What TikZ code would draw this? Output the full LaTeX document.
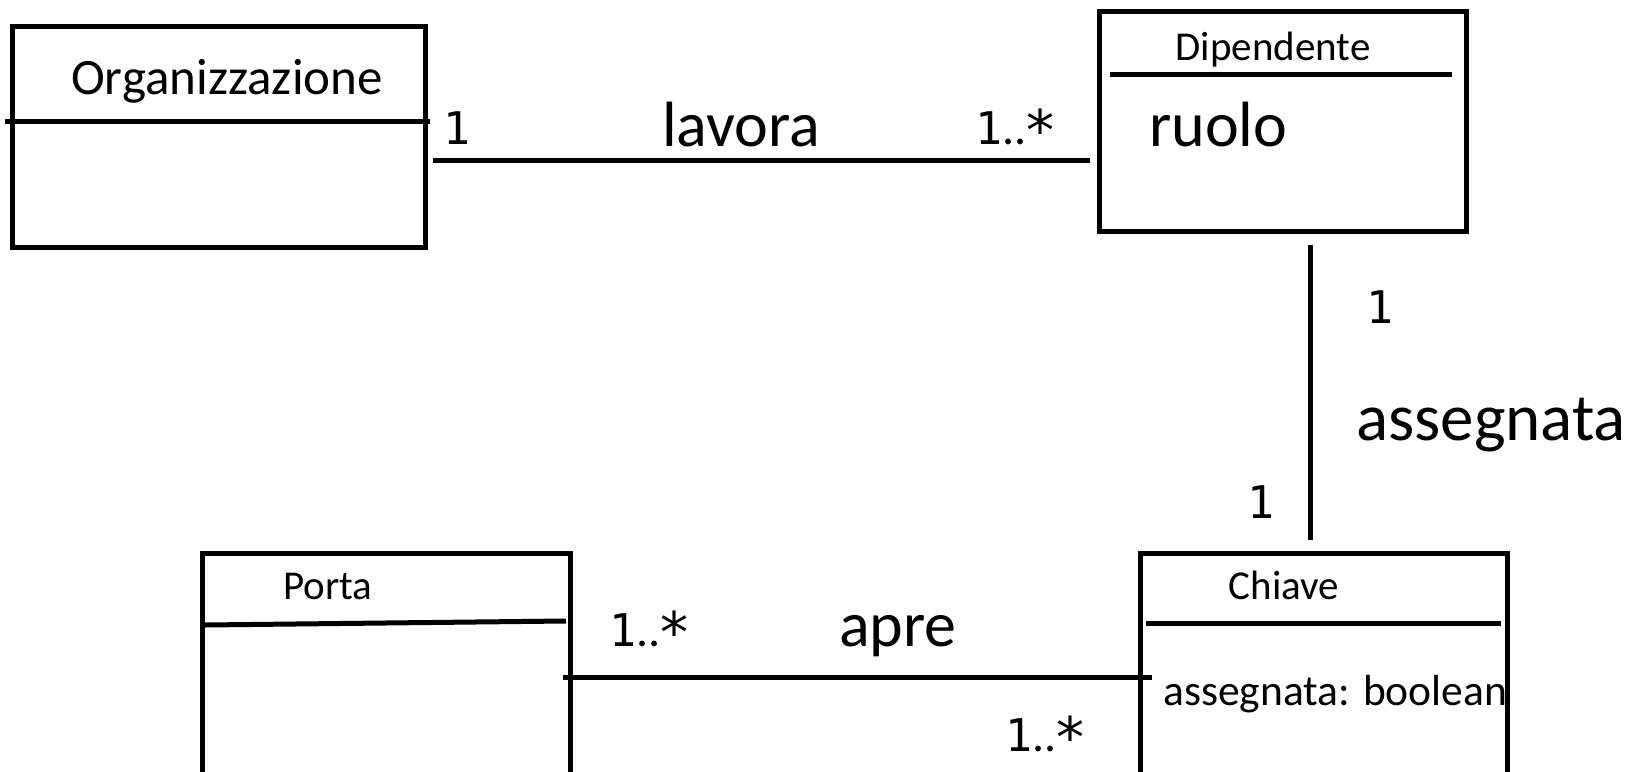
\documentclass[tikz,border=0pt]{standalone}
\usepackage{fontspec}
\setmainfont{Carlito}
\newfontfamily\monofont{DejaVu Sans Mono}
\newfontfamily\starfont{DejaVu Sans}
\newcommand\multone{{\monofont\fontsize{45}{48}\selectfont 1}}
\newcommand\multmany{{\monofont\fontsize{45}{48}\selectfont 1}{\fontsize{48}{48}\selectfont ..}\raisebox{-6pt}{\starfont\fontsize{56}{56}\selectfont *}}
\usetikzlibrary{calc}
\begin{document}
\begin{tikzpicture}[x=1pt,y=-1pt,
  umlbox/.style={draw, line width=5pt, inner sep=0pt, outer sep=0pt, anchor=north west},
  rule/.style={line width=5pt},
  lbl/.style={inner sep=0pt, anchor=base},
  lblw/.style={inner sep=0pt, anchor=base west},
  titlefont/.style={font=\fontsize{41}{48}\selectfont},
  bigfont/.style={font=\fontsize{64}{72}\selectfont}]
\clip (0,0) rectangle (1633,771);
% boxes
\node[umlbox, minimum width=412.5pt, minimum height=221pt] (org) at (12.5,26) {};
\node[umlbox, minimum width=367pt, minimum height=219.5pt] (dip) at (1099,11.5) {};
\node[umlbox, minimum width=368pt, minimum height=260pt] (porta) at (202,553) {};
\node[umlbox, minimum width=367pt, minimum height=260pt] (chiave) at (1140,553) {};
% compartment dividers
\draw[rule] (5,121) -- (430,121);
\draw[rule] (1110,74) -- (1452,74);
\draw[rule] (205,625) -- (566,621);
\draw[rule] (1146,623) -- (1501,623);
% class texts
\node[lbl, font=\fontsize{51}{60}\selectfont] (torg) at (227,94) {Organizzazione};
\node[lbl, titlefont] (tdip) at (1273,60) {Dipendente};
\node[lblw, bigfont] (truolo) at (1149,146) {ruolo};
\node[lbl, titlefont] (tporta) at (328,599) {Porta};
\node[lbl, titlefont] (tchiave) at (1284,599) {Chiave};
\node[lblw, font=\fontsize{43.5}{50}\selectfont] (tbool) at (1163,705) {assegnata: boolean};
% connectors
\coordinate (ylav) at (0,160);
\coordinate (xass) at (1310,0);
\coordinate (yapre) at (0,677);
\draw[rule] ($(org.east |- ylav)+(8,0)$) -- ($(dip.west |- ylav)+(-9,0)$);
\draw[rule] ($(dip.south -| xass)+(0,14)$) -- ($(chiave.north -| xass)+(0,-13)$);
\draw[rule] ($(porta.east |- yapre)+(-7,0)$) -- ($(chiave.west |- yapre)+(12,0)$);
% association labels
\node[lbl, bigfont] (llav) at (741,146) {lavora};
\node[lblw, font=\fontsize{67}{74}\selectfont] (lass) at (1356,440) {assegnata};
\node[lbl, bigfont] (lapre) at (898,646) {apre};
% multiplicities
\node[lbl] (m1) at (457,144) {\multone};
\node[lbl] (m2) at (1015,144) {\multmany};
\node[lbl] (m3) at (1380,323) {\multone};
\node[lbl] (m4) at (1261,518) {\multone};
\node[lblw] (m5) at (609,646) {\multmany};
\node[lblw] (m6) at (1005,751) {\multmany};
\end{tikzpicture}
\end{document}
